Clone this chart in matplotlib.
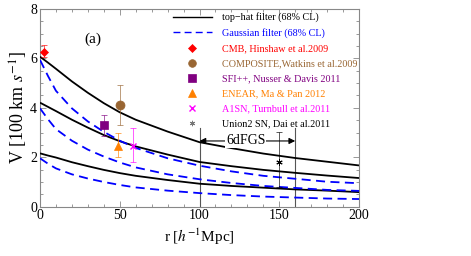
import matplotlib
matplotlib.use("Agg")
import matplotlib.pyplot as plt
from matplotlib.lines import Line2D
from matplotlib.ticker import MultipleLocator

plt.rcParams['font.family'] = ['Liberation Serif', 'DejaVu Serif']
plt.rcParams['mathtext.fontset'] = 'stix'

# ---- data ----
r_grid = [0, 5, 10, 20, 30, 40, 50, 60, 80, 100, 120, 140, 160, 180, 200]
tophat_upper = [6.07, 5.83, 5.58, 5.07, 4.61, 4.19, 3.82, 3.52, 3.04, 2.61, 2.37, 2.15, 1.97, 1.82, 1.67]
tophat_mid   = [4.21, 4.04, 3.87, 3.52, 3.20, 2.90, 2.65, 2.44, 2.11, 1.81, 1.64, 1.49, 1.37, 1.26, 1.16]
tophat_lower = [2.16, 2.07, 1.99, 1.80, 1.64, 1.49, 1.36, 1.25, 1.08, 0.93, 0.84, 0.77, 0.70, 0.65, 0.59]
gauss_upper  = [5.94, 5.29, 4.69, 3.98, 3.45, 3.03, 2.67, 2.38, 1.96, 1.66, 1.43, 1.25, 1.13, 1.01, 0.95]
gauss_mid    = [3.98, 3.54, 3.14, 2.67, 2.31, 2.03, 1.79, 1.59, 1.31, 1.11, 0.96, 0.84, 0.76, 0.68, 0.64]
gauss_lower  = [1.96, 1.74, 1.55, 1.31, 1.14, 1.00, 0.88, 0.78, 0.65, 0.55, 0.47, 0.41, 0.37, 0.33, 0.31]

obs_labels = ["CMB, Hinshaw et al.2009", "COMPOSITE,Watkins et al.2009",
              "SFI++, Nusser & Davis 2011", "ENEAR, Ma & Pan 2012",
              "A1SN, Turnbull et al.2011", "Union2 SN, Dai et al.2011"]
obs_r     = [2.5, 50, 40, 49, 58, 150]
obs_v     = [6.28, 4.10, 3.31, 2.46, 2.46, 1.82]
obs_lo    = [6.05, 3.32, 2.88, 2.00, 1.80, 0.80]
obs_hi    = [6.53, 4.92, 3.72, 3.00, 3.20, 3.02]
obs_colors = ["#FF0000", "#996633", "#800080", "#FF8000", "#FF00FF", "#000000"]
obs_markers = ["D", "o", "s", "^", "x", (6, 2, 0)]
obs_sizes = [4.5, 6.5, 6, 6, 5, 4.5]

survey_edges = [100, 160]
survey_top = 3.2
survey_arrow_v = 2.66
survey_name = "6dFGS"

fig = plt.figure(figsize=(4.71, 2.56), dpi=100)
ax = fig.add_axes([40/471, 1-206.7/256, (359-40)/471, (206.7-9)/256])

lw = 1.3
for v in (tophat_upper, tophat_mid, tophat_lower):
    ax.plot(r_grid, v, color="black", lw=lw, solid_capstyle="butt", zorder=3)
for v in (gauss_upper, gauss_mid, gauss_lower):
    ax.plot(r_grid, v, color="#0000FF", lw=lw, dashes=(5, 3), zorder=3)

# survey bounds
for e in survey_edges:
    ax.plot([e, e], [0, survey_top], color="#555555", lw=0.8, zorder=2)
ax.annotate("", xy=(survey_edges[0], survey_arrow_v), xytext=(survey_edges[1], survey_arrow_v),
            arrowprops=dict(arrowstyle="<|-|>", color="black", lw=0.8,
                            mutation_scale=9, shrinkA=0, shrinkB=0), zorder=4)
ax.text((survey_edges[0] + survey_edges[1]) / 2 - 1, survey_arrow_v, survey_name,
        ha="center", va="center", fontsize=10,
        bbox=dict(facecolor="white", edgecolor="none", pad=0.5), zorder=5)

def mew_for(mk):
    if mk == "x":
        return 1.0
    if isinstance(mk, tuple):
        return 0.7
    return 0.5

handles = [Line2D([], [], color="black", lw=1.0),
           Line2D([], [], color="#0000FF", lw=1.0, dashes=(5, 3))]
for i in range(len(obs_r)):
    c = obs_colors[i]
    ax.errorbar([obs_r[i]], [obs_v[i]],
                yerr=[[obs_v[i] - obs_lo[i]], [obs_hi[i] - obs_v[i]]],
                fmt="none", ecolor=c, elinewidth=0.7, capsize=2.2, capthick=0.7,
                alpha=0.65, zorder=6)
    mk = obs_markers[i]
    ax.plot([obs_r[i]], [obs_v[i]], linestyle="none", marker=mk, color=c,
            markersize=obs_sizes[i], markeredgewidth=mew_for(mk), zorder=7)
    handles.append(Line2D([], [], linestyle="none", marker=mk,
                          color=c if i < 5 else "#777777",
                          markersize=obs_sizes[i] * 0.85,
                          markeredgewidth=mew_for(mk)))

labels = ["top\u2212hat filter (68% CL)", "Gaussian filter (68% CL)"] + obs_labels
text_colors = ["black", "#0000FF"] + obs_colors[:5] + ["black"]
leg = ax.legend(handles, labels, loc="upper left", bbox_to_anchor=(173/471, 1-12.5/256),
                bbox_transform=fig.transFigure, frameon=False, fontsize=7.3,
                handlelength=3.8, handletextpad=1.05, labelspacing=0.58, borderpad=0,
                borderaxespad=0)
for t, c in zip(leg.get_texts(), text_colors):
    t.set_color(c)

ax.text(33, 6.78, "(a)", fontsize=11, ha="center", va="center")

ax.set_xlim(0, 200)
ax.set_ylim(0, 8)
ax.xaxis.set_major_locator(MultipleLocator(50))
ax.xaxis.set_minor_locator(MultipleLocator(10))
ax.yaxis.set_major_locator(MultipleLocator(2))
ax.yaxis.set_minor_locator(MultipleLocator(0.5))
ax.tick_params(which="both", direction="in", top=True, right=True, colors="#888888",
               labelcolor="black", labelsize=10, width=0.6)
ax.tick_params(which="major", length=4, pad=2)
ax.tick_params(which="minor", length=2)
for s in ax.spines.values():
    s.set_color("#888888")
    s.set_linewidth(0.8)

ax.set_xlabel(r"r [$h^{-1}$Mpc]", fontsize=11, labelpad=3)
ax.set_ylabel(r"V [100 km $s^{-1}$]", fontsize=13, labelpad=0)

fig.savefig("out.png", dpi=100)
